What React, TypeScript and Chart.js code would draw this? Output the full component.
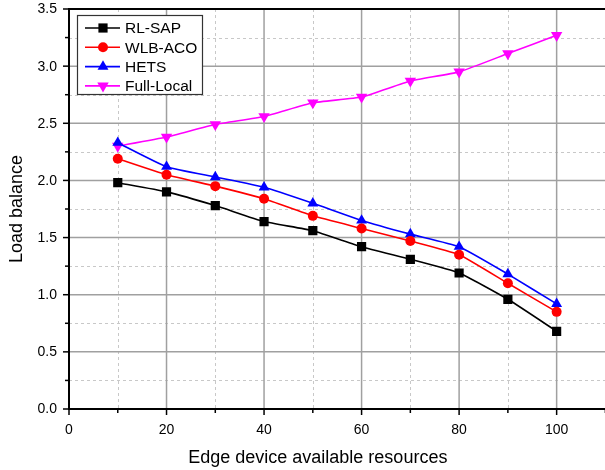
import React, { useEffect, useRef } from "react";
import { Chart, registerables } from "chart.js";

Chart.register(...registerables);

const xValues = [10, 20, 30, 40, 50, 60, 70, 80, 90, 100];
const rlSap = [1.98, 1.9, 1.78, 1.64, 1.56, 1.42, 1.31, 1.19, 0.96, 0.68];
const wlbAco = [2.19, 2.05, 1.95, 1.84, 1.69, 1.58, 1.47, 1.35, 1.1, 0.85];
const hets = [2.33, 2.12, 2.03, 1.94, 1.8, 1.65, 1.53, 1.42, 1.18, 0.92];
const fullLocal = [2.3, 2.38, 2.49, 2.56, 2.68, 2.73, 2.87, 2.95, 3.11, 3.27];

const seriesNames = ["RL-SAP", "WLB-ACO", "HETS", "Full-Local"];
const seriesColors = ["#000000", "#ff0000", "#0000ff", "#ff00ff"];
const seriesMarkers = ["rect", "circle", "triangle", "triangle"];
const seriesRotation = [0, 0, 0, 180];
const seriesRadius = [6.5, 5, 6.3, 6.6];

const xTitle = "Edge device available resources";
const yTitle = "Load balance";
const xMin = 0, xMax = 110, xMajor = 20, xMinor = 10;
const yMin = 0, yMax = 3.5, yMajor = 0.5, yMinor = 0.25;

const FONT = "'Liberation Sans', Arial, sans-serif";

function drawMarker(ctx: CanvasRenderingContext2D, kind: string, rot: number, x: number, y: number, r: number, color: string) {
  ctx.save();
  ctx.fillStyle = color;
  ctx.beginPath();
  if (kind === "rect") {
    const s = Math.SQRT1_2 * r;
    ctx.rect(x - s, y - s, 2 * s, 2 * s);
  } else if (kind === "circle") {
    ctx.arc(x, y, r, 0, Math.PI * 2);
  } else {
    let a = (rot * Math.PI) / 180;
    ctx.moveTo(x + Math.sin(a) * r, y - Math.cos(a) * r);
    a += (2 * Math.PI) / 3;
    ctx.lineTo(x + Math.sin(a) * r, y - Math.cos(a) * r);
    a += (2 * Math.PI) / 3;
    ctx.lineTo(x + Math.sin(a) * r, y - Math.cos(a) * r);
    ctx.closePath();
  }
  ctx.fill();
  ctx.restore();
}

const framePlugin = {
  id: "frame",
  beforeDatasetsDraw(chart: any) {
    const { ctx, chartArea: a, scales } = chart;
    const xs = scales.x, ys = scales.y;
    ctx.save();
    // minor dashed grid
    ctx.strokeStyle = "#c8c8c8";
    ctx.lineWidth = 1;
    ctx.setLineDash([3, 3]);
    for (let v = xMin + xMinor; v < xMax; v += xMajor) {
      const p = Math.round(xs.getPixelForValue(v)) + 0.5;
      ctx.beginPath(); ctx.moveTo(p, a.top); ctx.lineTo(p, a.bottom); ctx.stroke();
    }
    for (let v = yMin + yMinor; v < yMax; v += yMajor) {
      const p = Math.round(ys.getPixelForValue(v)) + 0.5;
      ctx.beginPath(); ctx.moveTo(a.left, p); ctx.lineTo(a.right, p); ctx.stroke();
    }
    // major solid grid
    ctx.setLineDash([]);
    ctx.strokeStyle = "#a0a0a0";
    ctx.lineWidth = 1.5;
    for (let v = xMin + xMajor; v < xMax; v += xMajor) {
      const p = xs.getPixelForValue(v);
      ctx.beginPath(); ctx.moveTo(p, a.top); ctx.lineTo(p, a.bottom); ctx.stroke();
    }
    for (let v = yMin + yMajor; v < yMax - 1e-9; v += yMajor) {
      const p = ys.getPixelForValue(v);
      ctx.beginPath(); ctx.moveTo(a.left, p); ctx.lineTo(a.right, p); ctx.stroke();
    }
    // axes
    ctx.strokeStyle = "#000";
    ctx.lineWidth = 2;
    ctx.beginPath();
    ctx.moveTo(a.left, a.top); ctx.lineTo(a.right, a.top);
    ctx.moveTo(a.left, a.top - 1); ctx.lineTo(a.left, a.bottom + 1);
    ctx.moveTo(a.left - 1, a.bottom); ctx.lineTo(a.right, a.bottom);
    ctx.stroke();
    // ticks
    ctx.lineWidth = 1.5;
    for (let v = xMin; v <= xMax; v += xMinor) {
      const p = xs.getPixelForValue(v);
      const len = Math.abs(v % xMajor) < 1e-9 ? 6 : 4;
      ctx.beginPath(); ctx.moveTo(p, a.bottom); ctx.lineTo(p, a.bottom + len); ctx.stroke();
    }
    ctx.fillStyle = "#000";
    ctx.font = `14px ${FONT}`;
    ctx.textAlign = "right";
    ctx.textBaseline = "middle";
    for (let v = yMin; v <= yMax + 1e-9; v += yMinor) {
      const p = ys.getPixelForValue(v);
      const major = Math.abs(Math.round(v / yMajor) * yMajor - v) < 1e-9;
      const len = major ? 6 : 4;
      ctx.beginPath(); ctx.moveTo(a.left, p); ctx.lineTo(a.left - len, p); ctx.stroke();
      if (major) ctx.fillText(v.toFixed(1), a.left - 12, p + 0.5);
    }
    // titles
    ctx.font = `18px ${FONT}`;
    ctx.textAlign = "center";
    ctx.textBaseline = "middle";
    ctx.fillText(xTitle, (xs.getPixelForValue(0) + xs.getPixelForValue(100)) / 2 + 5, 458);
    ctx.save();
    ctx.translate(17, (a.top + a.bottom) / 2);
    ctx.rotate(-Math.PI / 2);
    ctx.fillText(yTitle, 0, 0);
    ctx.restore();
    ctx.restore();
  },
  afterDraw(chart: any) {
    const { ctx, chartArea: a } = chart;
    const bx = a.left + 8, by = a.top + 6, bw = 125, bh = 79;
    ctx.save();
    ctx.fillStyle = "#fff";
    ctx.fillRect(bx, by, bw, bh);
    ctx.strokeStyle = "#333";
    ctx.lineWidth = 1.2;
    ctx.strokeRect(bx + 0.5, by + 0.5, bw, bh);
    ctx.font = `15.5px ${FONT}`;
    ctx.textBaseline = "middle";
    ctx.textAlign = "left";
    for (let i = 0; i < seriesNames.length; i++) {
      const y = by + 13 + i * 19.3;
      ctx.strokeStyle = seriesColors[i];
      ctx.lineWidth = 1.6;
      ctx.beginPath(); ctx.moveTo(bx + 8, y); ctx.lineTo(bx + 43, y); ctx.stroke();
      drawMarker(ctx, seriesMarkers[i], seriesRotation[i], bx + 26, y, seriesRadius[i], seriesColors[i]);
      ctx.fillStyle = "#000";
      ctx.fillText(seriesNames[i], bx + 48, y + 1);
    }
    ctx.restore();
  },
};

export default function App() {
  const ref = useRef<HTMLCanvasElement | null>(null);
  useEffect(() => {
    if (!ref.current) return;
    const seriesValues = [rlSap, wlbAco, hets, fullLocal];
    const chart = new Chart(ref.current, {
      type: "line",
      data: {
        datasets: seriesValues.map((vals, i) => ({
          label: seriesNames[i],
          data: xValues.map((x, j) => ({ x, y: vals[j] })),
          borderColor: seriesColors[i],
          backgroundColor: seriesColors[i],
          borderWidth: 1.6,
          pointStyle: seriesMarkers[i] as any,
          rotation: seriesRotation[i],
          pointRadius: seriesRadius[i],
          pointBorderWidth: 0,
          tension: 0.15,
          fill: false,
        })),
      },
      options: {
        animation: false,
        responsive: false,
        devicePixelRatio: 1,
        layout: { padding: { top: 9, right: 5, left: 0, bottom: 0 } },
        plugins: { legend: { display: false }, tooltip: { enabled: false } },
        scales: {
          x: {
            type: "linear",
            min: xMin,
            max: xMax,
            grid: { display: false },
            border: { display: false },
            ticks: {
              stepSize: xMajor,
              padding: 5,
              color: "#000",
              font: { family: FONT, size: 14 },
              maxRotation: 0,
              callback: (v: any) => (v % xMajor === 0 && v <= 100 ? String(v) : ""),
            },
            afterFit: (s: any) => { s.height = 61; },
          },
          y: {
            type: "linear",
            min: yMin,
            max: yMax,
            grid: { display: false },
            border: { display: false },
            ticks: { display: false, stepSize: yMajor },
            afterFit: (s: any) => { s.width = 69; },
          },
        },
      },
      plugins: [framePlugin],
    });
    return () => chart.destroy();
  }, []);
  return (
    <div style={{ position: "absolute", left: 0, top: 0, width: 605, height: 470, overflow: "hidden", background: "#fff" }}>
      <canvas ref={ref} width={612} height={470} style={{ display: "block" }} />
    </div>
  );
}
